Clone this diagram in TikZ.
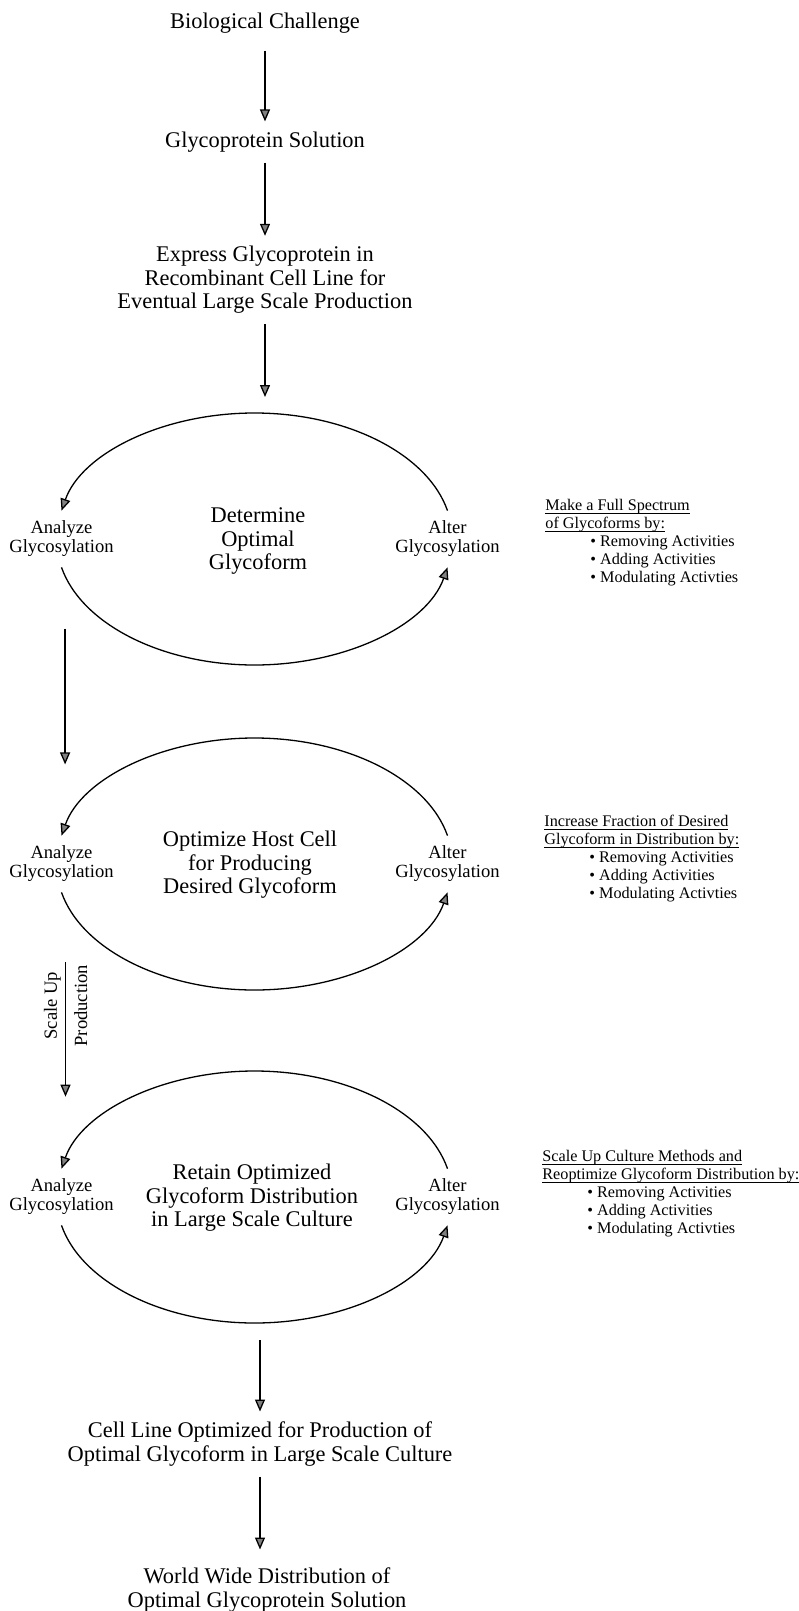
\documentclass[tikz,border=0pt]{standalone}
\usepackage{fontspec}
\setmainfont{Liberation Serif}
\usetikzlibrary{positioning, arrows.meta}

\newcommand{\mainsize}{\fontsize{11.2}{11.8}\selectfont}
\newcommand{\labsize}{\fontsize{9.3}{9.5}\selectfont}
\newcommand{\notesize}{\fontsize{8.1}{9}\selectfont}
\newsavebox{\ulbox}
\newcommand{\uln}[1]{\sbox{\ulbox}{#1}\rlap{\rule[-1.6pt]{\wd\ulbox}{0.45pt}}\usebox{\ulbox}}

\begin{document}
\begin{tikzpicture}[x=0.5pt, y=0.5pt,
    mainbox/.style={align=center, font=\mainsize, inner xsep=2pt, inner ysep=5pt},
    glyc/.style={align=center, font=\labsize, inner xsep=1pt, inner ysep=5pt},
    note/.style={align=left, font=\notesize, anchor=north west, inner sep=0pt},
    flow/.style={line width=0.65pt, -{Triangle[length=6pt,width=5pt,fill=gray]}}]

    \useasboundingbox (0,0) rectangle (798,-1611);

    % top chain
    \node[mainbox] (bio) at (265,-23) {Biological Challenge};
    \node[mainbox] (sol) at (265,-142) {Glycoprotein Solution};
    \node[mainbox] (expr) at (265,-280) {Express Glycoprotein in\\Recombinant Cell Line for\\Eventual Large Scale Production};

    \draw[flow, shorten <=3.5pt] (bio) -- (sol);
    \draw[flow] (sol) -- (expr);

    % cycle 1
    \node[mainbox] (cyc1) at (258,-541) {Determine\\Optimal\\Glycoform};
    \node[glyc] (ana1) at (61.5,-539) {Analyze\\Glycosylation};
    \node[glyc] (alt1) at (447.5,-539) {Alter\\Glycosylation};
    \coordinate (up1) at (254.5,-413);
    \coordinate (dn1) at (254.5,-665);
    \node[note] (note1) at (545,-499) {\uln{Make a Full Spectrum}\\\uln{of Glycoforms by:}\\
        \hspace*{22.5pt}\textbullet{} Removing Activities\\\hspace*{22.5pt}\textbullet{} Adding Activities\\\hspace*{22.5pt}\textbullet{} Modulating Activties};

    % cycle 2
    \node[mainbox] (cyc2) at (250,-865) {Optimize Host Cell\\for Producing\\Desired Glycoform};
    \node[glyc] (ana2) at (61.5,-864) {Analyze\\Glycosylation};
    \node[glyc] (alt2) at (447.5,-864) {Alter\\Glycosylation};
    \coordinate (up2) at (254.5,-738);
    \coordinate (dn2) at (254.5,-990);
    \node[note] (note2) at (544,-815) {\uln{Increase Fraction of Desired}\\\uln{Glycoform in Distribution by:}\\
        \hspace*{22.5pt}\textbullet{} Removing Activities\\\hspace*{22.5pt}\textbullet{} Adding Activities\\\hspace*{22.5pt}\textbullet{} Modulating Activties};

    % cycle 3
    \node[mainbox] (cyc3) at (252,-1198) {Retain Optimized\\Glycoform Distribution\\in Large Scale Culture};
    \node[glyc] (ana3) at (61.5,-1197) {Analyze\\Glycosylation};
    \node[glyc] (alt3) at (447.5,-1197) {Alter\\Glycosylation};
    \coordinate (up3) at (254.5,-1071);
    \coordinate (dn3) at (254.5,-1323);
    \node[note] (note3) at (542,-1150) {\uln{Scale Up Culture Methods and}\\\uln{Reoptimize Glycoform Distribution by:}\\
        \hspace*{22.5pt}\textbullet{} Removing Activities\\\hspace*{22.5pt}\textbullet{} Adding Activities\\\hspace*{22.5pt}\textbullet{} Modulating Activties};

    % loops
    \foreach \k in {1,2,3} {
        \draw[flow] (alt\k.north) .. controls +(-20,57) and +(92,0) .. (up\k)
            .. controls +(-92,0) and +(20,57) .. (ana\k.north);
        \draw[flow] (ana\k.south) .. controls +(20,-57) and +(-92,0) .. (dn\k)
            .. controls +(92,0) and +(-20,-57) .. (alt\k.south);
    }

    \draw[flow, shorten >=8pt] (expr.south) -- (expr.south |- up1);
    \draw[flow, shorten <=30.6pt, shorten >=35.6pt] ([xshift=1.8pt]ana1.south) -- ([xshift=1.8pt]ana2.north);
    \draw[flow, shorten <=35pt, shorten >=36pt] ([xshift=2pt]ana2.south) -- ([xshift=2pt]ana3.north)
        node[pos=0.41, rotate=90, above, inner sep=2pt, font=\labsize] {Scale Up}
        node[pos=0.41, rotate=90, below, inner sep=4pt, font=\labsize] {Production};

    % bottom chain
    \node[mainbox] (cell) at (260,-1444) {Cell Line Optimized for Production of\\Optimal Glycoform in Large Scale Culture};
    \node[mainbox] (world) at (267,-1590) {World Wide Distribution of\\Optimal Glycoprotein Solution};

    \draw[flow, shorten <=8.5pt] (cell.north |- dn3) -- (cell.north);
    \draw[flow, shorten >=4pt] (cell.south) -- (cell.south |- world.north);
\end{tikzpicture}
\end{document}
